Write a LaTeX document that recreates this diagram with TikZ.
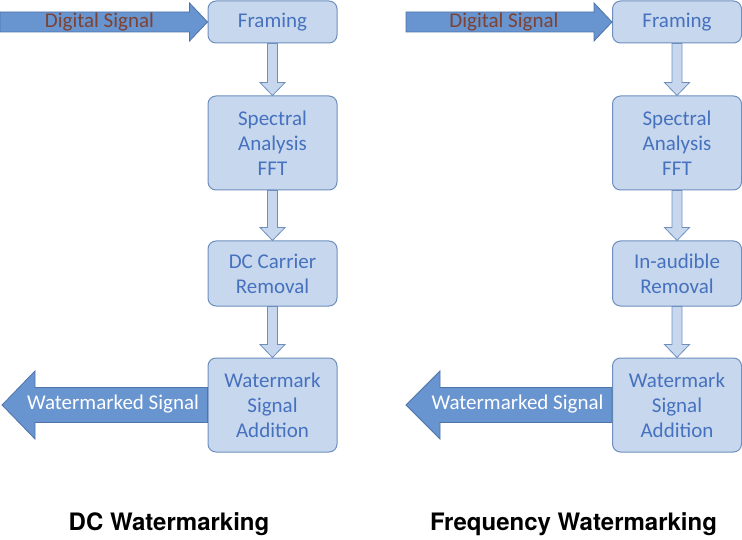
\documentclass[tikz,border=0pt]{standalone}
\usepackage{fontspec}
\setmainfont{Carlito}
\newfontfamily\headfont{TeX Gyre Heros}
\usepackage{tikz}
\usetikzlibrary{calc}
\definecolor{boxfill}{RGB}{199,216,238}
\definecolor{boxline}{RGB}{110,143,190}
\definecolor{boxtext}{RGB}{70,113,190}
\definecolor{flowfill}{RGB}{104,148,207}
\definecolor{flowline}{RGB}{78,116,170}
\definecolor{sigtext}{RGB}{125,66,50}
\tikzset{
    stage/.style={draw=boxline, fill=boxfill, line width=1pt, rounded corners=8pt,
        text=boxtext, align=center, minimum width=129pt, inner sep=0pt,
        font=\fontsize{21}{25}\selectfont},
    downflow/.style={draw=boxline, fill=boxfill, line width=0.8pt},
    sideflow/.style={draw=flowline, fill=flowfill, line width=0.8pt},
    intext/.style={text=sigtext, font=\fontsize{21}{25}\selectfont},
    outtext/.style={text=white, font=\fontsize{21}{25}\selectfont},
    caption/.style={anchor=base, font=\headfont\bfseries\fontsize{24}{28}\selectfont},
}
% block arrow: [style]{tail}{tip}{shaft half}{head half}{head length}
\newcommand{\fatarrow}[6][]{%
    \path (#2) coordinate (fa-tail) (#3) coordinate (fa-tip);
    \path ($(fa-tip)!#6!(fa-tail)$) coordinate (fa-neck);
    \draw[#1] ($(fa-tail)!#4!90:(fa-tip)$) -- ($(fa-neck)!#4!90:(fa-tip)$)
        -- ($(fa-neck)!#5!90:(fa-tip)$) -- (fa-tip)
        -- ($(fa-neck)!#5!-90:(fa-tip)$) -- ($(fa-neck)!#4!-90:(fa-tip)$)
        -- ($(fa-tail)!#4!-90:(fa-tip)$) -- cycle;
}
\begin{document}
\begin{tikzpicture}[x=1pt, y=-1pt]
    \useasboundingbox (0,0) rectangle (742,540);
	% DC watermarking
	\node[stage, minimum height=42pt] (dcframe) at (272.5,22) {Framing};
	\node[stage, minimum height=94pt] (dcfft) at (272.5,143) {Spectral\\Analysis\\FFT};
	\node[stage, minimum height=65pt] (dcremove) at (272.5,273.5) {DC Carrier\\Removal};
	\node[stage, minimum height=94pt] (dcadd) at (272.5,405) {Watermark\\Signal\\Addition};
	\fatarrow[downflow]{dcframe.south}{dcfft.north}{5pt}{12.5pt}{13pt}
	\fatarrow[downflow]{dcfft.south}{dcremove.north}{5pt}{12.5pt}{13pt}
	\fatarrow[downflow]{dcremove.south}{dcadd.north}{5pt}{12.5pt}{13pt}
	\coordinate (dcin) at (0,22);
	\fatarrow[sideflow]{dcin}{dcframe.west}{10pt}{19pt}{18pt}
	\node[intext] (dcinlabel) at (99.5,22) {Digital Signal};
	\coordinate (dcout) at (2,405);
	\fatarrow[sideflow]{dcadd.west}{dcout}{17.5pt}{34pt}{33pt}
	\node[outtext] (dcoutlabel) at (113,404) {Watermarked Signal};
	\node[caption] (dctitle) at (169,530) {DC Watermarking};
\begin{scope}[shift={(404.5,0)}]
	% frequency watermarking
	\node[stage, minimum height=42pt] (fqframe) at (272.5,22) {Framing};
	\node[stage, minimum height=94pt] (fqfft) at (272.5,143) {Spectral\\Analysis\\FFT};
	\node[stage, minimum height=65pt] (fqremove) at (272.5,273.5) {In-audible\\Removal};
	\node[stage, minimum height=94pt] (fqadd) at (272.5,405) {Watermark\\Signal\\Addition};
	\fatarrow[downflow]{fqframe.south}{fqfft.north}{5pt}{12.5pt}{13pt}
	\fatarrow[downflow]{fqfft.south}{fqremove.north}{5pt}{12.5pt}{13pt}
	\fatarrow[downflow]{fqremove.south}{fqadd.north}{5pt}{12.5pt}{13pt}
	\coordinate (fqin) at (1.5,22);
	\fatarrow[sideflow]{fqin}{fqframe.west}{10pt}{19pt}{18pt}
	\node[intext] (fqinlabel) at (99.5,22) {Digital Signal};
	\coordinate (fqout) at (1.5,405);
	\fatarrow[sideflow]{fqadd.west}{fqout}{17.5pt}{34pt}{34pt}
	\node[outtext] (fqoutlabel) at (113,404) {Watermarked Signal};
	\node[caption] (fqtitle) at (169,530) {Frequency Watermarking};
\end{scope}
\end{tikzpicture}
\end{document}
